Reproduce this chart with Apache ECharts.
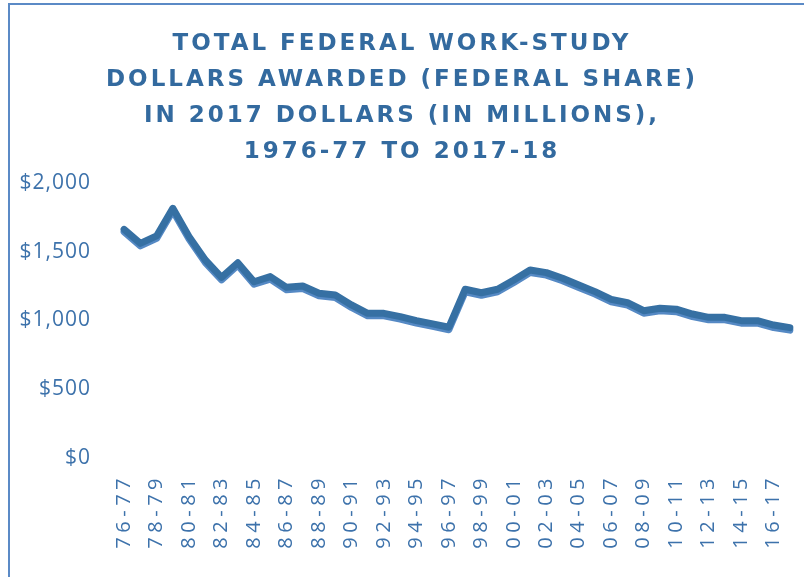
<!DOCTYPE html>
<html>
<head>
<meta charset="utf-8">
<script src="https://cdn.jsdelivr.net/npm/echarts@6/dist/echarts.min.js"></script>
<style>
html,body{margin:0;padding:0;background:#fff;}
#chart{width:804px;height:577px;}
</style>
</head>
<body>
<div id="chart"></div>
<script>
var titleText = "TOTAL FEDERAL WORK-STUDY\nDOLLARS AWARDED (FEDERAL SHARE)\nIN 2017 DOLLARS (IN MILLIONS),\n1976-77 TO 2017-18";

var categories = ["76-77","77-78","78-79","79-80","80-81","81-82","82-83","83-84","84-85","85-86",
  "86-87","87-88","88-89","89-90","90-91","91-92","92-93","93-94","94-95","95-96",
  "96-97","97-98","98-99","99-00","00-01","01-02","02-03","03-04","04-05","05-06",
  "06-07","07-08","08-09","09-10","10-11","11-12","12-13","13-14","14-15","15-16",
  "16-17","17-18"];

var federalShare = [1663,1561,1615,1816,1610,1440,1314,1420,1282,1319,
  1241,1251,1198,1185,1113,1052,1052,1028,999,975,
  951,1227,1202,1227,1295,1367,1348,1307,1258,1210,
  1154,1130,1071,1089,1082,1047,1023,1023,999,999,
  967,948];

var yTicks = [0,500,1000,1500,2000];

// tracking (letter spacing) by font size, applied at draw time
(function () {
  var spacing = {'23px': '3px', '20px': '4.5px', '21px': '1px'};
  var proto = CanvasRenderingContext2D.prototype;
  var orig = proto.fillText;
  proto.fillText = function (t, x, y, m) {
    var prev = this.letterSpacing;
    var f = this.font || '';
    for (var k in spacing) {
      if (f.indexOf(k) >= 0) { this.letterSpacing = spacing[k]; break; }
    }
    var r = (m === undefined) ? orig.call(this, t, x, y) : orig.call(this, t, x, y, m);
    this.letterSpacing = prev;
    return r;
  };
})();

var chart = echarts.init(document.getElementById('chart'), null, {renderer:'canvas'});

var option = {
  backgroundColor: '#ffffff',
  animation: false,
  title: {
    text: titleText,
    left: 'center',
    top: 21,
    textStyle: {
      fontFamily: 'DejaVu Sans',
      fontWeight: 'bold',
      fontSize: 23,
      lineHeight: 36,
      color: '#336a9f'
    }
  },
  graphic: [{
    type: 'rect',
    shape: {x: 9, y: 4, width: 900, height: 700},
    style: {fill: 'none', stroke: '#5b8ac6', lineWidth: 2},
    silent: true
  }],
  grid: {left: 116, right: 6, top: 183, bottom: 119},
  xAxis: {
    type: 'category',
    data: categories,
    boundaryGap: true,
    axisLine: {show: false},
    axisTick: {show: false},
    splitLine: {show: false},
    axisLabel: {
      interval: 1,
      rotate: 90,
      margin: 16,
      fontFamily: 'Open Sans',
      fontSize: 20,
      color: '#3d72ab'
    }
  },
  yAxis: {
    type: 'value',
    min: yTicks[0],
    max: yTicks[yTicks.length - 1],
    interval: 500,
    axisLine: {show: false},
    axisTick: {show: false},
    splitLine: {show: false},
    axisLabel: {
      margin: 25,
      fontFamily: 'Open Sans',
      fontSize: 21,
      color: '#3d72ab',
      formatter: function (v) { return '$' + v.toLocaleString('en-US'); }
    }
  },
  series: [{
    type: 'line',
    data: federalShare,
    symbol: 'none',
    lineStyle: {
      width: 7,
      color: '#3670a3',
      cap: 'round',
      join: 'round',
      shadowColor: '#5589c4',
      shadowBlur: 0,
      shadowOffsetY: 2.5
    }
  }]
};
chart.setOption(option);
</script>
</body>
</html>
